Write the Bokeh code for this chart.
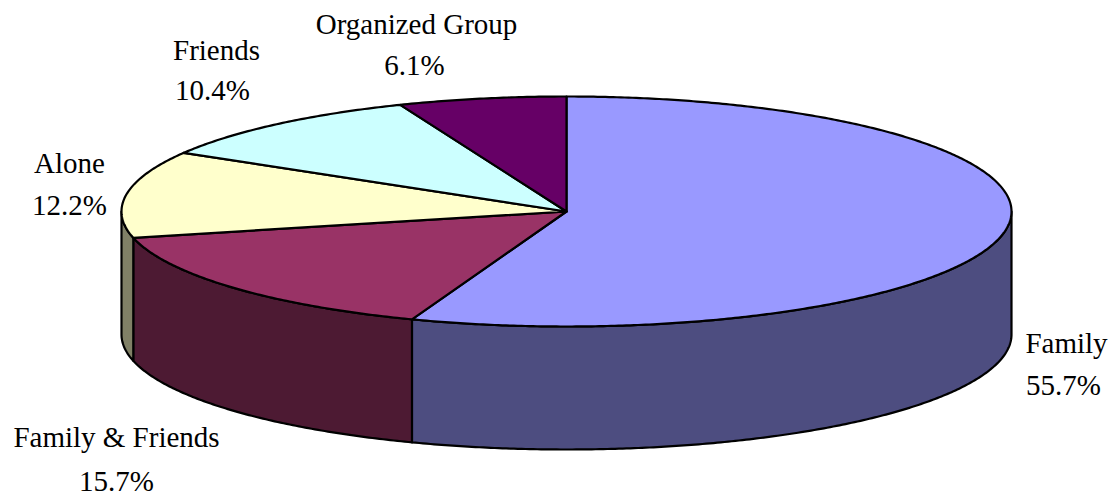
import numpy as np
from bokeh.plotting import figure
from bokeh.models import Range1d
from bokeh.core.properties import value
from bokeh.embed import file_html
from bokeh.resources import INLINE

categories = ["Family", "Family & Friends", "Alone", "Friends", "Organized Group"]
shares = [55.7, 15.7, 12.2, 10.4, 6.1]
share_labels = ["55.7%", "15.7%", "12.2%", "10.4%", "6.1%"]
top_colors = ["#9999FF", "#993366", "#FFFFCC", "#CCFFFF", "#660066"]
side_colors = ["#4D4D80", "#4D1A33", "#808066", "#668080", "#330033"]

# layout (screen pixels, the ranges below map data units 1:1 to page pixels)
CX, CY, RX, RY, DEPTH = 566.0, 211.0, 445.0, 115.0, 123.0
name_pos = [(1066, 342), (116, 436), (69, 162), (216, 49), (416, 23)]
pct_pos = [(1063, 384), (116, 480), (69, 204), (212, 89), (414, 64)]


def rim(a0, a1, drop=0.0):
    """Rim points between two clockwise-from-top angles in degrees."""
    n = max(2, int(abs(a1 - a0) * 2) + 1)
    t = np.radians(np.linspace(a0, a1, n))
    return CX + RX * np.sin(t), CY - RY * np.cos(t) + drop


p = figure(width=1116, height=499, output_backend="svg", toolbar_location=None,
           x_range=Range1d(0, 1116), y_range=Range1d(499, 0),
           min_border=0, outline_line_color=None, background_fill_color="white")
p.axis.visible = False
p.grid.visible = False

ends = np.cumsum(shares) / sum(shares) * 360.0
starts = np.concatenate([[0.0], ends[:-1]])

# walls (only the near half of the rim, 90..270 degrees, faces the viewer)
for a0, a1, col in zip(starts, ends, side_colors):
    lo, hi = max(a0, 90.0), min(a1, 270.0)
    if lo >= hi:
        continue
    xt, yt = rim(lo, hi)
    xb, yb = rim(hi, lo, DEPTH)
    p.patch(np.r_[xt, xb], np.r_[yt, yb], fill_color=col, line_color="black",
            line_width=2.2, line_join="round")

# top slices
for a0, a1, col in zip(starts, ends, top_colors):
    xs, ys = rim(a0, a1)
    p.patch(np.r_[CX, xs], np.r_[CY, ys], fill_color=col, line_color="black",
            line_width=2.2, line_join="round")

font = dict(text_font=value("Liberation Serif"), text_font_size="29px", text_color="black",
            text_align="center", text_baseline="middle")
p.text([q[0] for q in name_pos], [q[1] for q in name_pos], text=categories, **font)
p.text([q[0] for q in pct_pos], [q[1] for q in pct_pos], text=share_labels, **font)

open("out.html", "w").write(file_html(p, INLINE))
